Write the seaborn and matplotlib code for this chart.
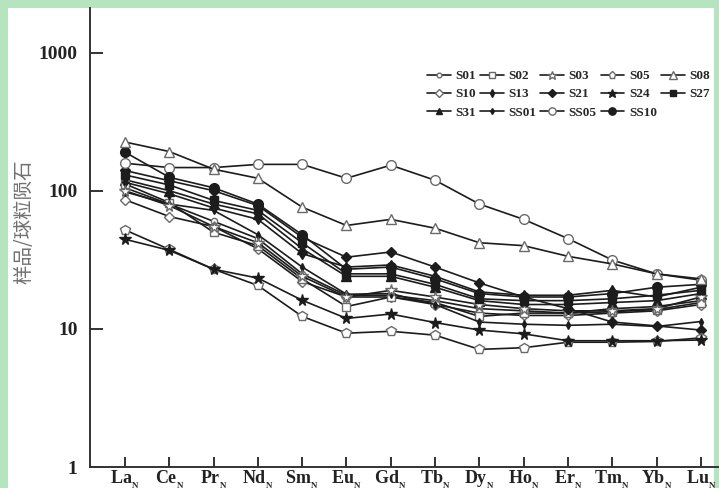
import numpy as np
import pandas as pd
import seaborn as sns
import matplotlib.pyplot as plt
from matplotlib.patches import Rectangle

elements = ['La', 'Ce', 'Pr', 'Nd', 'Sm', 'Eu', 'Gd', 'Tb', 'Dy', 'Ho', 'Er', 'Tm', 'Yb', 'Lu']

# chondrite-normalised REE values
s01 = [105, 80, 60, 45, 25, 17.5, 17.5, 16, 14, 13.5, 13, 14, 14.5, 16]
s02 = [112, 82, 50, 40, 23, 14.5, 17, 15.5, 12.3, 13, 13, 13.3, 13.8, 15.5]
s03 = [100, 78, 55, 42, 24, 17, 19, 17, 15, 14, 13.5, 13.5, 14, 17]
s05 = [52, 37.6, 27, 20.6, 12.3, 9.3, 9.6, 9.0, 7.1, 7.3, 8.0, 8.0, 8.1, 8.6]
s08 = [225, 192, 143, 123, 76, 56, 62, 53.5, 42, 40, 33.5, 29.5, 25, 23]
s10 = [86, 65, 55, 38, 22, 17, 17, 15, 13, 12.5, 12.5, 13, 13.5, 15]
s13 = [115, 95, 75, 62, 35, 28, 29, 24, 18.5, 17.5, 17.5, 19, 17, 20]
s21 = [140, 118, 100, 78, 46, 33, 36, 28, 21.5, 17, 14, 11.2, 10.5, 9.8]
s24 = [44.5, 37, 27, 23.3, 16.1, 11.9, 12.8, 11.1, 9.8, 9.2, 8.2, 8.2, 8.2, 8.3]
s27 = [130, 110, 85, 72, 42, 25, 25, 21, 16.5, 16, 16, 16.5, 17.5, 19]
s31 = [120, 100, 80, 68, 38, 24, 24, 20, 16, 15, 15, 15.5, 16, 18]
ss01 = [98, 80, 72, 48, 28, 17.8, 18, 15, 11.2, 10.8, 10.6, 10.8, 10.4, 11.3]
ss05 = [158, 147, 147, 155, 155, 123, 153, 119, 80, 62, 45, 31.5, 25, 22.5]
ss10 = [190, 125, 105, 80, 48, 27, 28, 23, 18, 17, 17, 18, 20, 21]

# legend order is row-major in the figure, matplotlib fills columns first
order = ['S01', 'S10', 'S31', 'S02', 'S13', 'SS01', 'S03', 'S21', 'SS05',
         'S05', 'S24', 'SS10', 'S08', 'S27']
series = {'S01': s01, 'S02': s02, 'S03': s03, 'S05': s05, 'S08': s08,
          'S10': s10, 'S13': s13, 'S21': s21, 'S24': s24, 'S27': s27,
          'S31': s31, 'SS01': ss01, 'SS05': ss05, 'SS10': ss10}

# (marker, size, open?)
styles = {'S01': ('o', 4.5, True), 'S02': ('s', 6, True), 'S03': ('*', 8.5, True),
          'S05': ('p', 7, True), 'S08': ('^', 7, True), 'S10': ('D', 5, True),
          'S13': ('d', 5, False), 'S21': ('D', 5.5, False), 'S24': ('*', 8.5, False),
          'S27': ('s', 6, False), 'S31': ('^', 6.5, False), 'SS01': ('d', 4, False),
          'SS05': ('o', 7, True), 'SS10': ('o', 7, False)}

sns.set_theme(style='ticks')
plt.rcParams['font.family'] = ['Liberation Serif', 'DejaVu Sans']
plt.rcParams['mathtext.fontset'] = 'custom'
plt.rcParams['mathtext.bf'] = 'Liberation Serif:bold'
plt.rcParams['mathtext.rm'] = 'Liberation Serif'

fig = plt.figure(figsize=(7.19, 4.88), dpi=100, facecolor='#b5e4be')
fig.patches.append(Rectangle((8 / 719, 0), (714 - 8) / 719, 480 / 488,
                             transform=fig.transFigure, facecolor='white',
                             edgecolor='none', zorder=-5))
ax = fig.add_axes([90 / 719, 21 / 488, 629 / 719, 459 / 488])
ax.set_facecolor('none')

for name in order:
    mk, ms, hollow = styles[name]
    df = pd.DataFrame({'el': elements, 'v': series[name]})
    sns.lineplot(data=df, x='el', y='v', ax=ax, sort=False, color='#1c1c1c',
                 linewidth=1.2, marker=mk, markersize=ms,
                 markerfacecolor='white' if hollow else '#1c1c1c',
                 markeredgecolor='#6a6a6a' if hollow else '#1c1c1c',
                 markeredgewidth=1.0, label=name)

ax.set_yscale('log')
ax.set_ylim(1, 2100)
ax.set_xlim(-0.79, 13.41)
ax.set_yticks([1, 10, 100, 1000])
ax.set_yticklabels(['1', '10', '100', '1000'])
ax.minorticks_off()
ax.set_xticks(range(len(elements)))
ax.set_xticklabels([r'$\mathbf{%s}_{_\mathbf{N}}$' % e for e in elements])
ax.set_xlabel('')
ax.set_ylabel('')

for lab in ax.get_yticklabels():
    lab.set_fontweight('bold')
ax.tick_params(axis='y', direction='in', length=9, width=1.3, pad=9,
               labelsize=14, colors='#222222')
ax.tick_params(axis='x', direction='in', length=7, width=1.3, pad=1.5,
               labelsize=13, colors='#222222')
sns.despine(ax=ax)
for sp in ['left', 'bottom']:
    ax.spines[sp].set_linewidth(1.4)
    ax.spines[sp].set_color('#333333')

fig.text(24 / 719, 1 - 222 / 488, '样品/球粒陨石', rotation=90, ha='center',
         va='center', fontsize=14, color='#707070',
         family=['Noto Sans CJK SC', 'DejaVu Sans'])

handles, labels = ax.get_legend_handles_labels()
leg = ax.legend(handles, labels, ncol=5, frameon=False, loc='upper left',
                bbox_to_anchor=(427 / 719, 1 - 70 / 488),
                bbox_transform=fig.transFigure, borderpad=0, borderaxespad=0,
                handlelength=1.8, handletextpad=0.35, columnspacing=0.3,
                labelspacing=0.45, prop={'family': 'Liberation Serif',
                                         'weight': 'bold', 'size': 9.5})
for h in leg.legend_handles:
    h.set_markersize(h.get_markersize() * 0.75)

fig.savefig('out.png', dpi=100)
